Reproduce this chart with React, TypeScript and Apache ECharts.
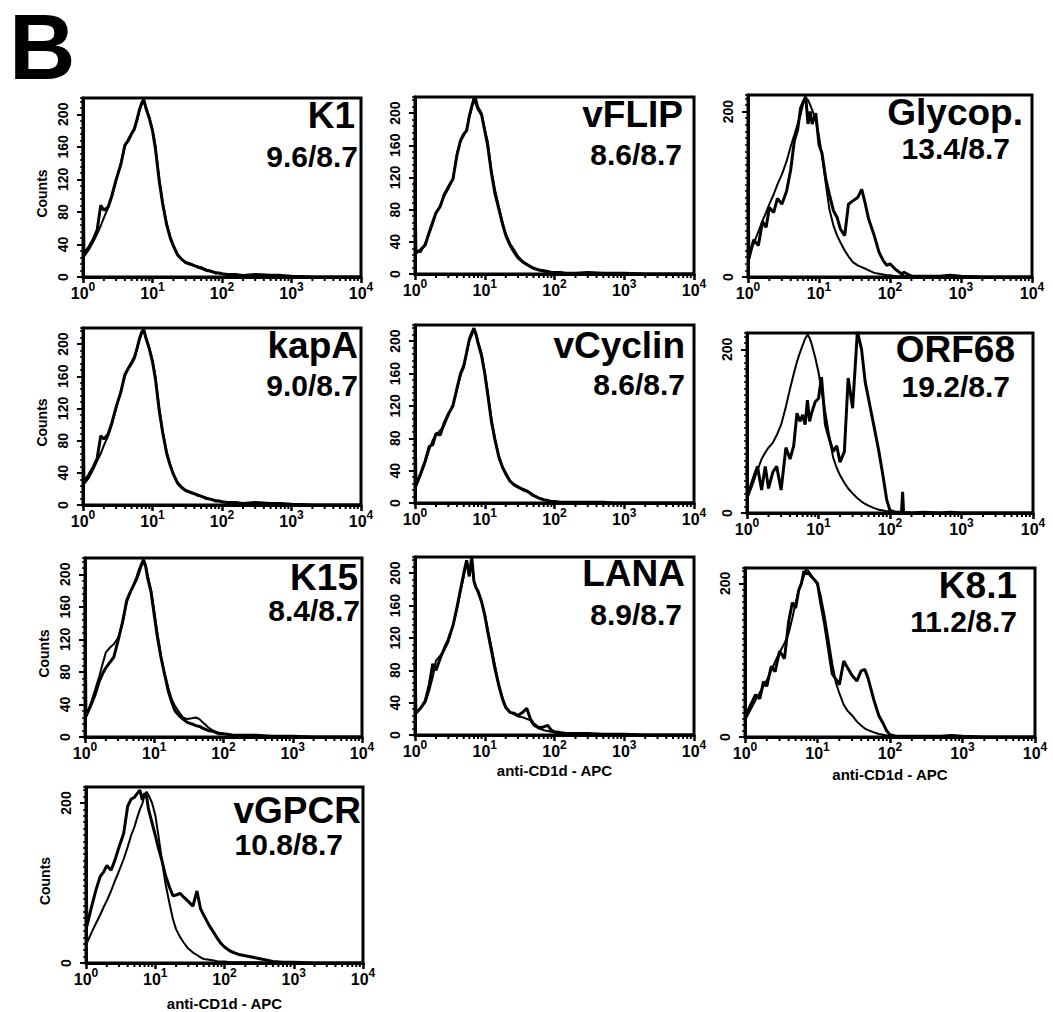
import React, { useEffect, useRef } from "react";
import * as echarts from "echarts";

// ---------- DATA ----------
// shared fluorescence bins (anti-CD1d-APC intensity)
const XS = [1, 1.03, 1.2, 1.4, 1.6, 1.8, 2, 2.3, 2.6, 3, 3.5, 4, 4.5, 5, 5.5, 6, 6.5, 7, 7.5, 8, 9, 10, 11, 12.5, 14, 16, 18, 20, 23, 26, 30, 35, 40, 45, 50, 60, 70, 80, 90, 100, 120, 145, 150, 155, 200, 300, 500, 700, 1000, 2000, 10000];

const PANEL_NAMES = ["K1", "vFLIP", "Glycop.", "kapA", "vCyclin", "ORF68", "K15", "LANA", "K8.1", "vGPCR"];
const PANEL_RATIOS = ["9.6/8.7", "8.6/8.7", "13.4/8.7", "9.0/8.7", "8.6/8.7", "19.2/8.7", "8.4/8.7", "8.9/8.7", "11.2/8.7", "10.8/8.7"];

const K1_CTRL = [180, 25, 33, 43, 53, 63, 73, 85, 98, 118, 140, 160, 170, 177, 183, 192, 204, 212, 216, 210, 196, 181, 162, 120, 92, 66, 50, 39, 28, 22, 17, 15, 14, 13, 12, 9, 7, 6, 5, 4, 3, 3, 3, 3, 2, 2, 2, 1, 1, 0, 0];
const K1_SAMPLE = [180, 28, 36, 46, 58, 88, 82, 86, 100, 120, 138, 162, 168, 176, 182, 194, 206, 214, 218, 208, 195, 180, 158, 118, 90, 64, 48, 38, 27, 22, 18, 16, 14, 12, 11, 8, 7, 5, 5, 4, 3, 3, 3, 3, 2, 3, 2, 2, 1, 0, 0];

const VFLIP_CTRL = [116, 30, 27, 38, 50, 63, 75, 85, 96, 106, 118, 150, 165, 172, 180, 195, 206, 218, 218, 208, 200, 180, 165, 128, 105, 83, 64, 50, 38, 31, 22, 16, 12, 10, 8, 5, 3, 3, 2, 2, 2, 1, 1, 1, 1, 1, 1, 1, 1, 0, 0];
const VFLIP_SAMPLE = [116, 26, 30, 36, 52, 65, 76, 84, 98, 108, 118, 148, 166, 174, 178, 196, 208, 218, 212, 205, 198, 178, 160, 125, 100, 80, 62, 48, 36, 28, 20, 15, 12, 9, 7, 5, 4, 3, 2, 2, 2, 1, 1, 1, 1, 2, 1, 1, 1, 0, 0];

const GLY_CTRL = [110, 26, 40, 55, 68, 78, 88, 100, 112, 124, 140, 158, 172, 185, 196, 210, 216, 214, 208, 202, 190, 170, 148, 112, 82, 62, 50, 42, 32, 25, 18, 14, 12, 10, 8, 5, 4, 3, 2, 2, 1, 1, 1, 1, 1, 0, 0, 0, 0, 0, 0];
const GLY_SAMPLE = [108, 22, 45, 38, 67, 60, 84, 78, 95, 88, 104, 130, 165, 178, 204, 212, 218, 185, 200, 185, 198, 160, 150, 118, 100, 80, 72, 58, 50, 88, 92, 96, 106, 88, 70, 50, 30, 20, 14, 16, 9, 4, 3, 6, 1, 1, 1, 2, 1, 0, 0];

const KAPA_CTRL = [175, 26, 33, 44, 55, 64, 74, 86, 100, 120, 142, 160, 171, 178, 185, 194, 205, 213, 217, 210, 195, 180, 160, 121, 92, 66, 50, 39, 28, 23, 18, 15, 14, 13, 11, 9, 7, 6, 5, 4, 3, 3, 3, 3, 2, 2, 2, 1, 1, 0, 0];
const KAPA_SAMPLE = [175, 28, 37, 47, 58, 86, 82, 88, 102, 122, 140, 162, 170, 176, 183, 195, 207, 215, 218, 208, 194, 178, 157, 117, 90, 64, 49, 38, 27, 22, 18, 16, 14, 12, 11, 8, 7, 5, 5, 4, 3, 3, 3, 3, 2, 3, 2, 2, 1, 0, 0];

const VCYC_CTRL = [114, 20, 34, 50, 66, 78, 84, 90, 95, 108, 122, 140, 158, 167, 185, 200, 207, 214, 210, 200, 185, 162, 138, 104, 80, 58, 45, 37, 28, 22, 19, 16, 14, 12, 10, 6, 4, 3, 2, 2, 1, 1, 1, 1, 1, 1, 1, 0, 0, 0, 0];
const VCYC_SAMPLE = [114, 22, 36, 52, 70, 72, 86, 84, 98, 110, 120, 142, 160, 170, 186, 202, 210, 216, 208, 198, 182, 160, 135, 100, 78, 56, 44, 36, 27, 23, 20, 17, 15, 12, 9, 6, 4, 3, 2, 2, 1, 1, 1, 1, 1, 1, 1, 0, 0, 0, 0];

const ORF68_CTRL = [20, 20, 35, 52, 66, 74, 80, 86, 95, 108, 130, 152, 170, 185, 196, 205, 213, 218, 214, 207, 190, 172, 150, 122, 96, 68, 55, 46, 37, 30, 24, 18, 14, 11, 9, 6, 4, 3, 2, 2, 1, 1, 1, 1, 0, 0, 0, 0, 0, 0, 0];
const ORF68_SAMPLE = [57, 22, 40, 57, 28, 57, 30, 50, 57, 28, 80, 66, 82, 122, 112, 120, 108, 138, 112, 122, 136, 140, 166, 108, 92, 75, 82, 62, 75, 165, 128, 222, 200, 160, 140, 105, 75, 45, 16, 3, 1, 1, 26, 1, 0, 1, 0, 1, 0, 0, 0];

const K15_CTRL = [181, 25, 40, 58, 74, 90, 104, 110, 114, 122, 140, 165, 178, 186, 192, 200, 210, 214, 212, 200, 180, 155, 130, 100, 80, 60, 46, 38, 30, 24, 22, 23, 24, 22, 18, 12, 8, 6, 5, 4, 3, 2, 2, 2, 2, 1, 1, 1, 0, 0, 0];
const K15_SAMPLE = [181, 25, 38, 52, 68, 78, 85, 92, 98, 118, 142, 168, 178, 186, 194, 204, 212, 218, 210, 196, 178, 150, 125, 98, 78, 56, 42, 32, 26, 22, 18, 16, 14, 13, 11, 8, 7, 5, 4, 4, 3, 2, 2, 2, 2, 2, 1, 1, 1, 0, 0];

const LANA_CTRL = [97, 27, 33, 40, 55, 72, 92, 98, 104, 115, 135, 155, 178, 196, 214, 200, 218, 190, 182, 176, 164, 150, 132, 108, 86, 62, 46, 35, 28, 26, 23, 22, 20, 18, 12, 8, 6, 5, 4, 3, 2, 2, 2, 2, 2, 1, 1, 1, 0, 0, 0];
const LANA_SAMPLE = [97, 27, 33, 42, 62, 88, 80, 95, 106, 118, 135, 158, 180, 200, 216, 196, 220, 190, 182, 178, 165, 148, 128, 104, 82, 60, 44, 34, 28, 27, 24, 28, 33, 20, 14, 9, 10, 12, 6, 4, 3, 2, 2, 2, 2, 2, 1, 1, 1, 0, 0];

const K81_CTRL = [100, 24, 36, 48, 58, 66, 74, 86, 98, 110, 122, 135, 155, 175, 190, 200, 210, 218, 216, 212, 205, 198, 185, 158, 130, 95, 70, 57, 42, 34, 28, 20, 15, 11, 9, 6, 4, 3, 2, 2, 1, 1, 1, 1, 1, 0, 0, 0, 0, 0, 0];
const K81_SAMPLE = [40, 28, 42, 55, 50, 72, 66, 92, 85, 112, 102, 150, 175, 168, 191, 200, 216, 212, 214, 210, 205, 200, 176, 148, 118, 82, 75, 68, 99, 90, 80, 73, 86, 88, 76, 48, 28, 18, 8, 3, 1, 1, 1, 1, 1, 1, 1, 2, 1, 0, 0];

const VGPCR_CTRL = [130, 25, 38, 50, 60, 70, 78, 90, 102, 115, 130, 145, 160, 170, 182, 192, 199, 210, 214, 210, 200, 185, 162, 128, 100, 75, 55, 42, 32, 25, 18, 13, 10, 7, 5, 4, 3, 2, 2, 2, 1, 1, 1, 1, 1, 1, 0, 0, 0, 0, 0];
const VGPCR_SAMPLE = [130, 46, 70, 92, 108, 114, 122, 116, 128, 145, 162, 196, 205, 207, 212, 216, 204, 212, 208, 192, 175, 160, 145, 128, 110, 95, 84, 85, 87, 82, 77, 71, 90, 68, 60, 47, 38, 30, 24, 20, 15, 12, 12, 11, 9, 6, 2, 1, 1, 0, 0];

const CONTROLS = [K1_CTRL, VFLIP_CTRL, GLY_CTRL, KAPA_CTRL, VCYC_CTRL, ORF68_CTRL, K15_CTRL, LANA_CTRL, K81_CTRL, VGPCR_CTRL];
const SAMPLES = [K1_SAMPLE, VFLIP_SAMPLE, GLY_SAMPLE, KAPA_SAMPLE, VCYC_SAMPLE, ORF68_SAMPLE, K15_SAMPLE, LANA_SAMPLE, K81_SAMPLE, VGPCR_SAMPLE];

const Y_MIN = 0;
const Y_MAX = 220;
const X_MIN = 1;
const X_MAX = 10000;
const X_NAME = "anti-CD1d - APC";
const Y_NAME = "Counts";

// ---------- LAYOUT ----------
const LAYOUT = [
  { l: 83, t: 98, w: 278, h: 179, step: 40, counts: true, xname: 0, tr: 355, ty: 115, nr: 358, ny: 156 },
  { l: 415, t: 97, w: 279, h: 177, step: 40, counts: false, xname: 0, tr: 683, ty: 114, nr: 682, ny: 154 },
  { l: 748, t: 95, w: 284, h: 182, step: 200, counts: false, xname: 0, tr: 1023, ty: 112, nr: 1010, ny: 148 },
  { l: 83, t: 328, w: 278, h: 177, step: 40, counts: true, xname: 0, tr: 358, ty: 345, nr: 358, ny: 385 },
  { l: 415, t: 325, w: 279, h: 178, step: 40, counts: false, xname: 0, tr: 685, ty: 345, nr: 685, ny: 384 },
  { l: 747, t: 333, w: 286, h: 180, step: 200, counts: false, xname: 0, tr: 1015, ty: 349, nr: 1010, ny: 386 },
  { l: 85, t: 558, w: 277, h: 179, step: 40, counts: true, xname: 0, tr: 358, ty: 577, nr: 360, ny: 610 },
  { l: 415, t: 557, w: 279, h: 178, step: 40, counts: false, xname: 28, tr: 685, ty: 573, nr: 682, ny: 614 },
  { l: 745, t: 568, w: 290, h: 169, step: 200, counts: false, xname: 30, tr: 1017, ty: 585, nr: 1017, ny: 621 },
  { l: 86, t: 787, w: 277, h: 176, step: 200, counts: true, xname: 33, tr: 361, ty: 810, nr: 343, ny: 844 },
];

const FONT = '"Liberation Sans", Arial, Helvetica, sans-serif';

function buildOption() {
  const grid: any[] = [];
  const xAxis: any[] = [];
  const yAxis: any[] = [];
  const series: any[] = [];
  const graphic: any[] = [];

  const minorX: number[][] = [];
  for (let k = 0; k < 4; k++) {
    for (let m = 2; m <= 9; m++) minorX.push([m * Math.pow(10, k), 0]);
  }

  LAYOUT.forEach((p, i) => {
    grid.push({
      left: p.l, top: p.t, width: p.w, height: p.h,
      show: true, borderColor: "#000", borderWidth: 3, backgroundColor: "#fff",
      containLabel: false, outerBoundsMode: "none",
    });
    xAxis.push({
      type: "log", logBase: 10, gridIndex: i, min: X_MIN, max: X_MAX,
      name: p.xname ? X_NAME : "", nameLocation: "middle", nameGap: p.xname || 20,
      nameTextStyle: { fontFamily: FONT, fontWeight: "bold", fontSize: 15, color: "#000" },
      axisLine: { show: true, lineStyle: { color: "#000", width: 3 } },
      axisTick: { show: true, length: 6, lineStyle: { color: "#000", width: 2.5 } },
      minorTick: { show: false }, splitLine: { show: false }, minorSplitLine: { show: false },
      axisLabel: {
        margin: 4,
        formatter: (v: number) => `{b|10}{s|${Math.round(Math.log10(v))}}`,
        rich: {
          b: { fontFamily: FONT, fontWeight: "bold", fontSize: 16, color: "#000", verticalAlign: "bottom", lineHeight: 20 },
          s: { fontFamily: FONT, fontWeight: "bold", fontSize: 12, color: "#000", verticalAlign: "top", lineHeight: 20 },
        },
      },
    });
    yAxis.push({
      type: "value", gridIndex: i, min: Y_MIN, max: Y_MAX, interval: p.step, position: "left",
      name: p.counts ? Y_NAME : "", nameLocation: "middle", nameGap: 34,
      nameTextStyle: { fontFamily: FONT, fontWeight: "bold", fontSize: 14, color: "#000", padding: [0, 12, 0, 0] },
      axisLine: { show: true, lineStyle: { color: "#000", width: 3 } },
      axisTick: { show: true, length: 6, lineStyle: { color: "#000", width: 2 } },
      splitLine: { show: false },
      axisLabel: { rotate: 90, margin: 13, showMaxLabel: false, fontFamily: FONT, fontWeight: "bold", fontSize: 14, color: "#000" },
    });
    yAxis.push({
      type: "value", gridIndex: i, min: Y_MIN, max: Y_MAX, interval: 8, position: "left",
      axisLine: { show: false }, axisLabel: { show: false }, splitLine: { show: false },
      axisTick: { show: true, length: 3, lineStyle: { color: "#000", width: 1.5 } },
    });
    const yi = i * 2;
    series.push({
      type: "line", xAxisIndex: i, yAxisIndex: yi, showSymbol: false, symbol: "none",
      data: XS.map((x, j) => [x, CONTROLS[i][j]]),
      lineStyle: { color: "#000", width: 2 }, z: 3,
    });
    series.push({
      type: "line", xAxisIndex: i, yAxisIndex: yi, showSymbol: false, symbol: "none",
      data: XS.map((x, j) => [x, SAMPLES[i][j]]),
      lineStyle: { color: "#000", width: 3 }, z: 4,
    });
    series.push({
      type: "custom", xAxisIndex: i, yAxisIndex: yi, silent: true, z: 5,
      data: minorX,
      renderItem: (params: any, api: any) => {
        const c = api.coord([api.value(0), 0]);
        return {
          type: "line",
          shape: { x1: c[0], y1: c[1], x2: c[0], y2: c[1] + 4 },
          style: { stroke: "#000", lineWidth: 2 },
        };
      },
    });
    graphic.push({
      type: "text", x: p.tr, y: p.ty, z: 10,
      style: { text: PANEL_NAMES[i], fill: "#000", fontFamily: FONT, fontWeight: "bold", fontSize: 37, lineHeight: 30, align: "right", verticalAlign: "middle" },
    });
    graphic.push({
      type: "text", x: p.nr, y: p.ny, z: 10,
      style: { text: PANEL_RATIOS[i], fill: "#000", fontFamily: FONT, fontWeight: "bold", fontSize: 30, lineHeight: 24, align: "right", verticalAlign: "middle" },
    });
  });

  graphic.push({
    type: "text", x: 9, y: 47, z: 10,
    style: { text: "B", fill: "#000", fontFamily: FONT, fontWeight: "bold", fontSize: 92, lineHeight: 72, align: "left", verticalAlign: "middle" },
  });

  return { animation: false, backgroundColor: "#fff", grid, xAxis, yAxis, series, graphic };
}

export default function App() {
  const ref = useRef<HTMLDivElement>(null);
  useEffect(() => {
    if (!ref.current) return;
    const chart = echarts.init(ref.current, undefined, { renderer: "svg" });
    chart.setOption(buildOption() as any);
    return () => chart.dispose();
  }, []);
  return (
    <div
      ref={ref}
      style={{ position: "fixed", left: 0, top: 0, width: 1053, height: 1012, background: "#fff" }}
    />
  );
}
